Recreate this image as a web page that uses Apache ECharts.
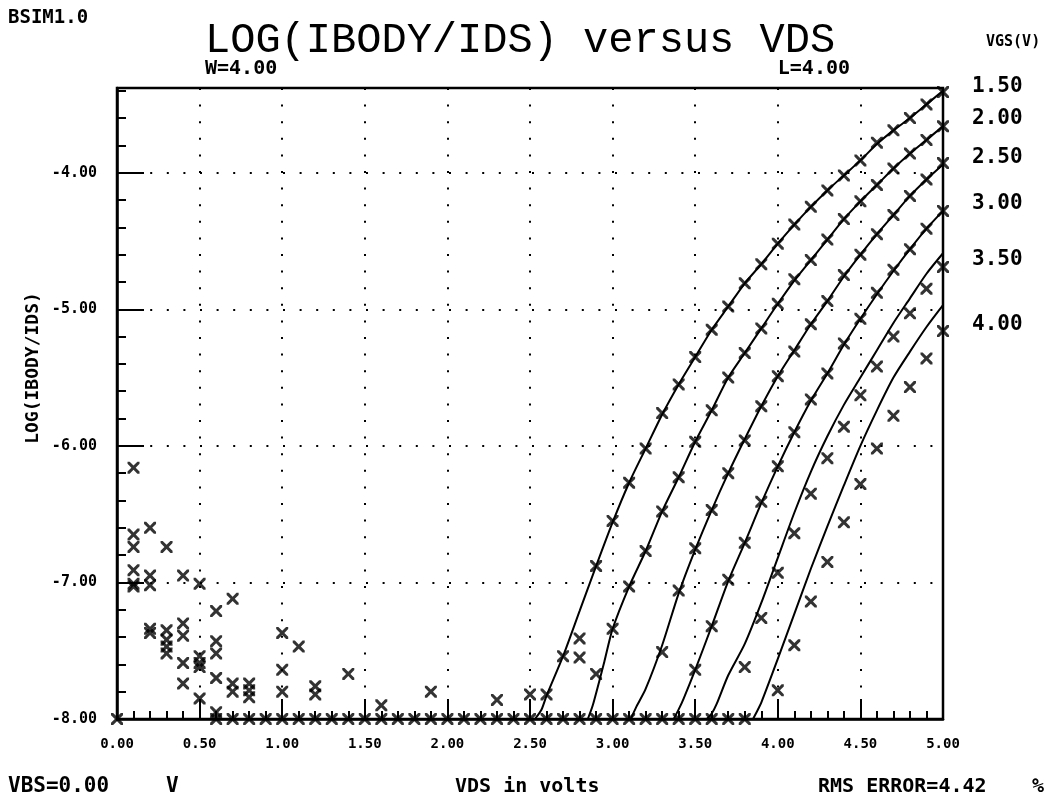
<!DOCTYPE html>
<html><head><meta charset="utf-8">
<script src="https://cdn.jsdelivr.net/npm/echarts@6/dist/echarts.min.js"></script>
<style>html,body{margin:0;padding:0;background:#fff}#c{width:1056px;height:806px}</style>
</head><body><div id="c"></div>
<script>
// ---- data ----
const vgsLabels = ['1.50', '2.00', '2.50', '3.00', '3.50', '4.00'];
const xTickValues = [0, 0.5, 1, 1.5, 2, 2.5, 3, 3.5, 4, 4.5, 5];
const yTickValues = [-8, -7, -6, -5, -4];

// model (simulated) curves: [VDS, log(Ibody/Ids)]
const model15 = [[2.53,-8],[2.57,-7.93],[2.6,-7.83],[2.7,-7.54],[2.8,-7.21],[2.9,-6.88],[3.0,-6.56],[3.1,-6.27],[3.2,-6.02],[3.3,-5.77],[3.4,-5.55],[3.5,-5.35],[3.6,-5.15],[3.7,-4.98],[3.8,-4.81],[3.9,-4.67],[4.0,-4.52],[4.1,-4.38],[4.2,-4.25],[4.3,-4.13],[4.4,-4.02],[4.5,-3.91],[4.6,-3.79],[4.7,-3.69],[4.8,-3.60],[4.9,-3.50],[5.0,-3.40]];
const model20 = [[2.85,-8],[2.88,-7.9],[2.95,-7.58],[3.0,-7.34],[3.1,-7.03],[3.2,-6.77],[3.3,-6.48],[3.4,-6.23],[3.5,-5.97],[3.6,-5.74],[3.7,-5.50],[3.8,-5.32],[3.9,-5.14],[4.0,-4.96],[4.1,-4.79],[4.2,-4.64],[4.3,-4.49],[4.4,-4.34],[4.5,-4.21],[4.6,-4.09],[4.7,-3.97],[4.8,-3.86],[4.9,-3.76],[5.0,-3.66]];
const model25 = [[3.11,-8],[3.14,-7.92],[3.2,-7.78],[3.3,-7.46],[3.4,-7.08],[3.5,-6.76],[3.6,-6.47],[3.7,-6.20],[3.8,-5.95],[3.9,-5.71],[4.0,-5.49],[4.1,-5.30],[4.2,-5.11],[4.3,-4.94],[4.4,-4.76],[4.5,-4.60],[4.6,-4.45],[4.7,-4.31],[4.8,-4.17],[4.9,-4.05],[5.0,-3.94]];
const model30 = [[3.37,-8],[3.40,-7.93],[3.43,-7.85],[3.5,-7.64],[3.6,-7.32],[3.7,-6.99],[3.8,-6.71],[3.9,-6.42],[4.0,-6.15],[4.1,-5.90],[4.2,-5.67],[4.3,-5.47],[4.4,-5.26],[4.5,-5.07],[4.6,-4.89],[4.7,-4.72],[4.8,-4.56],[4.9,-4.41],[5.0,-4.28]];
const model35 = [[3.57,-8],[3.6,-7.96],[3.63,-7.89],[3.7,-7.68],[3.8,-7.45],[3.9,-7.15],[4.0,-6.82],[4.1,-6.49],[4.2,-6.19],[4.3,-5.93],[4.4,-5.70],[4.5,-5.50],[4.6,-5.30],[4.7,-5.10],[4.8,-4.92],[4.9,-4.74],[5.0,-4.59]];
const model40 = [[3.85,-8],[3.88,-7.93],[3.9,-7.88],[4.0,-7.56],[4.1,-7.23],[4.2,-6.90],[4.3,-6.59],[4.4,-6.29],[4.5,-6.00],[4.6,-5.74],[4.7,-5.50],[4.8,-5.31],[4.9,-5.13],[5.0,-4.97]];

// measured points (x markers)
const meas15 = [[2.6,-7.82],[2.7,-7.54],[2.8,-7.41],[2.9,-6.88],[3.0,-6.55],[3.1,-6.27],[3.2,-6.02],[3.3,-5.76],[3.4,-5.55],[3.5,-5.35],[3.6,-5.15],[3.7,-4.98],[3.8,-4.81],[3.9,-4.67],[4.0,-4.52],[4.1,-4.38],[4.2,-4.25],[4.3,-4.13],[4.4,-4.02],[4.5,-3.91],[4.6,-3.78],[4.7,-3.69],[4.8,-3.60],[4.9,-3.50],[5.0,-3.41]];
const meas20 = [[2.8,-7.55],[2.9,-7.67],[3.0,-7.34],[3.1,-7.03],[3.2,-6.77],[3.3,-6.48],[3.4,-6.23],[3.5,-5.97],[3.6,-5.74],[3.7,-5.50],[3.8,-5.32],[3.9,-5.14],[4.0,-4.96],[4.1,-4.78],[4.2,-4.64],[4.3,-4.49],[4.4,-4.34],[4.5,-4.21],[4.6,-4.09],[4.7,-3.97],[4.8,-3.86],[4.9,-3.76],[5.0,-3.66]];
const meas25 = [[3.3,-7.51],[3.4,-7.06],[3.5,-6.75],[3.6,-6.47],[3.7,-6.20],[3.8,-5.96],[3.9,-5.71],[4.0,-5.49],[4.1,-5.31],[4.2,-5.11],[4.3,-4.94],[4.4,-4.75],[4.5,-4.60],[4.6,-4.45],[4.7,-4.31],[4.8,-4.17],[4.9,-4.05],[5.0,-3.93]];
const meas30 = [[3.5,-7.64],[3.6,-7.32],[3.7,-6.98],[3.8,-6.71],[3.9,-6.41],[4.0,-6.15],[4.1,-5.90],[4.2,-5.66],[4.3,-5.47],[4.4,-5.25],[4.5,-5.07],[4.6,-4.88],[4.7,-4.71],[4.8,-4.56],[4.9,-4.41],[5.0,-4.28]];
const meas35 = [[3.8,-7.62],[3.9,-7.26],[4.0,-6.93],[4.1,-6.64],[4.2,-6.35],[4.3,-6.09],[4.4,-5.86],[4.5,-5.63],[4.6,-5.42],[4.7,-5.20],[4.8,-5.03],[4.9,-4.85],[5.0,-4.69]];
const meas40 = [[4.0,-7.79],[4.1,-7.46],[4.2,-7.14],[4.3,-6.85],[4.4,-6.56],[4.5,-6.28],[4.6,-6.02],[4.7,-5.78],[4.8,-5.57],[4.9,-5.36],[5.0,-5.16]];

// noisy measured points at low VDS (all VGS)
const lowVdsPoints = [
  [0.1,-6.16],[0.1,-6.65],[0.1,-6.74],[0.1,-6.91],[0.1,-7.01],[0.1,-7.03],
  [0.2,-6.60],[0.2,-6.95],[0.2,-7.02],[0.2,-7.34],[0.2,-7.37],
  [0.3,-6.74],[0.3,-7.35],[0.3,-7.42],[0.3,-7.47],[0.3,-7.52],
  [0.4,-6.95],[0.4,-7.30],[0.4,-7.39],[0.4,-7.59],[0.4,-7.74],
  [0.5,-7.01],[0.5,-7.54],[0.5,-7.59],[0.5,-7.62],[0.5,-7.85],
  [0.6,-7.21],[0.6,-7.43],[0.6,-7.52],[0.6,-7.70],[0.6,-7.95],
  [0.7,-7.12],[0.7,-7.74],[0.7,-7.80],
  [0.8,-7.74],[0.8,-7.79],[0.8,-7.84],
  [1.0,-7.37],[1.0,-7.64],[1.0,-7.80],
  [1.1,-7.47],[1.2,-7.76],[1.2,-7.82],[1.4,-7.67],[1.6,-7.90],
  [1.9,-7.80],[2.3,-7.86],[2.5,-7.82]
];
// measured values that fall on the -8.00 floor
const floorVds = [0.0,0.6,0.7,0.8,0.9,1.0,1.1,1.2,1.3,1.4,1.5,1.6,1.7,1.8,1.9,2.0,2.1,2.2,2.3,2.4,2.5,2.6,2.7,2.8,2.9,3.0,3.1,3.2,3.3,3.4,3.5,3.6,3.7,3.8];
const floorValue = -8;

const modelSets = [model15, model20, model25, model30, model35, model40];
const measSets = [meas15, meas20, meas25, meas30, meas35, meas40];

// ---- chart ----
const X_SYMBOL = 'path://M0,0 L1.8,0 L5,3.2 L8.2,0 L10,0 L10,1.8 L6.8,5 L10,8.2 L10,10 L8.2,10 L5,6.8 L1.8,10 L0,10 L0,8.2 L3.2,5 L0,1.8 Z';
const INK = '#000';
const yMin = -8, yMax = -3.38;
const mono = '"DejaVu Sans Mono", "Liberation Mono", monospace';

const series = [];
modelSets.forEach((d, i) => series.push({
  type: 'line', name: 'model ' + vgsLabels[i], data: d, showSymbol: false, symbol: 'none',
  smooth: 0.25, lineStyle: { color: INK, width: 2 }, z: 3
}));
const markerBase = { type: 'scatter', symbol: X_SYMBOL, symbolSize: 12, itemStyle: { color: INK }, z: 4 };
measSets.forEach((d, i) => series.push(Object.assign({}, markerBase, { name: 'meas ' + vgsLabels[i], data: d })));
series.push(Object.assign({}, markerBase, { name: 'low VDS', data: lowVdsPoints }));
series.push(Object.assign({}, markerBase, { name: 'floor', data: floorVds.map(v => [v, floorValue]) }));

const vgsLabelY = [87, 119, 158, 204, 260, 325];
const graphics = [
  { type: 'text', x: 8, y: 18, style: { text: 'BSIM1.0', font: 'bold 19px ' + mono, fill: INK, verticalAlign: 'middle' } },
  { type: 'text', x: 205, y: 41, style: { text: 'LOG(IBODY/IDS) versus VDS', font: '42px "Liberation Mono", monospace', fill: INK, verticalAlign: 'middle' } },
  { type: 'text', x: 205, y: 69, style: { text: 'W=4.00', font: 'bold 20px ' + mono, fill: INK, verticalAlign: 'middle' } },
  { type: 'text', x: 850, y: 69, style: { text: 'L=4.00', font: 'bold 20px ' + mono, fill: INK, align: 'right', verticalAlign: 'middle' } },
  { type: 'text', x: 986, y: 42, style: { text: 'VGS(V)', font: 'bold 15px ' + mono, fill: INK, verticalAlign: 'middle' } },
  { type: 'text', x: 33, y: 368, rotation: Math.PI / 2, style: { text: 'LOG(IBODY/IDS)', font: 'bold 18px ' + mono, fill: INK, align: 'center', verticalAlign: 'middle' } },
  { type: 'text', x: 8, y: 787, style: { text: 'VBS=0.00', font: 'bold 21px ' + mono, fill: INK, verticalAlign: 'middle' } },
  { type: 'text', x: 166, y: 787, style: { text: 'V', font: 'bold 21px ' + mono, fill: INK, verticalAlign: 'middle' } },
  { type: 'text', x: 455, y: 787, style: { text: 'VDS in volts', font: 'bold 20px ' + mono, fill: INK, verticalAlign: 'middle' } },
  { type: 'text', x: 818, y: 787, style: { text: 'RMS ERROR=4.42', font: 'bold 20px ' + mono, fill: INK, verticalAlign: 'middle' } },
  { type: 'text', x: 1032, y: 787, style: { text: '%', font: 'bold 20px ' + mono, fill: INK, verticalAlign: 'middle' } }
];
vgsLabels.forEach((t, i) => graphics.push({
  type: 'text', x: 972, y: vgsLabelY[i], style: { text: t, font: 'bold 21px ' + mono, fill: INK, verticalAlign: 'middle' }
}));

const dotted = { color: INK, width: 2, type: [2, 14.6] };

const option = {
  animation: false,
  backgroundColor: '#fff',
  grid: { left: 117, top: 88, right: 113, bottom: 87, show: true, borderColor: INK, borderWidth: 2.5, backgroundColor: 'transparent', containLabel: false },
  xAxis: {
    type: 'value', min: xTickValues[0], max: xTickValues[xTickValues.length - 1], interval: 0.5,
    axisLine: { show: true, onZero: false, lineStyle: { color: INK, width: 2.5 } },
    axisTick: { show: true, inside: true, length: 20, lineStyle: { color: INK, width: 2 } },
    minorTick: { show: true, splitNumber: 5, length: 8, lineStyle: { color: INK, width: 2 } },
    splitLine: { show: true, lineStyle: dotted },
    axisLabel: { margin: 18, color: INK, fontFamily: mono, fontWeight: 'bold', fontSize: 14, formatter: v => v.toFixed(2) }
  },
  yAxis: [{
    type: 'value', min: yMin, max: yMax, interval: 1,
    axisLine: { show: true, onZero: false, lineStyle: { color: INK, width: 2.5 } },
    axisTick: { show: true, inside: true, length: 27, lineStyle: { color: INK, width: 2 } },
    splitLine: { show: true, lineStyle: dotted },
    axisLabel: { margin: 20, color: INK, fontFamily: mono, fontWeight: 'bold', fontSize: 15, showMaxLabel: false,
      formatter: v => yTickValues.indexOf(Math.round(v * 100) / 100) >= 0 ? v.toFixed(2) : '' }
  }, {
    type: 'value', min: yMin, max: yMax, interval: 0.2, position: 'left',
    axisLine: { show: false }, axisLabel: { show: false }, splitLine: { show: false },
    axisTick: { show: true, inside: true, length: 9, lineStyle: { color: INK, width: 2 } }
  }],
  series: series,
  graphic: graphics
};

const chart = echarts.init(document.getElementById('c'), null, { renderer: 'canvas' });
chart.setOption(option);
</script>
</body></html>
